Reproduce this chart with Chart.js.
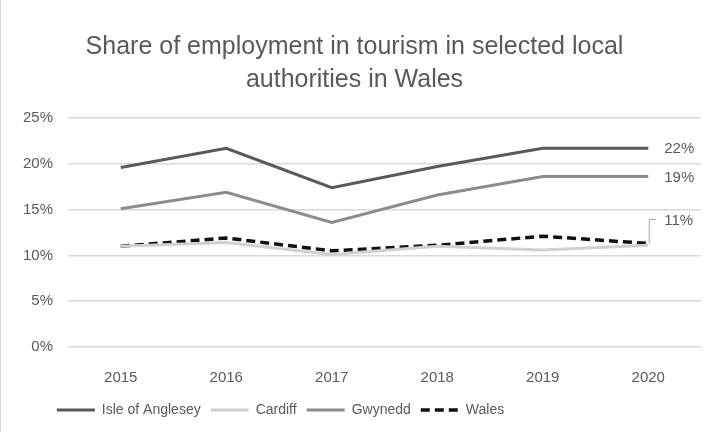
<!DOCTYPE html>
<html>
<head>
<meta charset="utf-8">
<script src="https://cdn.jsdelivr.net/npm/chart.js@4"></script>
<style>
  html, body { margin: 0; padding: 0; background: #fff; }
  #wrap { width: 713px; height: 432px; position: relative; box-sizing: border-box; border-left: 1px solid #d9d9d9; }
</style>
</head>
<body>
<div id="wrap"><canvas id="chart" width="712" height="432"></canvas></div>
<script>
// data
const years = ['2015', '2016', '2017', '2018', '2019', '2020'];
const anglesey = [0.196, 0.217, 0.174, 0.197, 0.217, 0.217];
const cardiff = [0.110, 0.114, 0.101, 0.110, 0.106, 0.111];
const gwynedd = [0.151, 0.169, 0.136, 0.166, 0.186, 0.186];
const wales = [0.110, 0.119, 0.105, 0.111, 0.121, 0.113];
const yTicks = [0, 0.05, 0.10, 0.15, 0.20, 0.25];

const textColor = '#595959';
const fontFamily = "'Liberation Sans', sans-serif";

// end-of-line value labels (Wales gets a little leader line)
const endLabels = {
  id: 'endLabels',
  afterLayout(chart) {
    // legend sits left of centre in the original
    chart.legend.left -= 74;
    chart.legend.right -= 74;
  },
  afterDatasetsDraw(chart) {
    const ctx = chart.ctx;
    ctx.save();
    ctx.font = '15px ' + fontFamily;
    ctx.fillStyle = textColor;
    ctx.textBaseline = 'middle';
    chart.data.datasets.forEach((ds, i) => {
      if (!ds.showEnd) return;
      const meta = chart.getDatasetMeta(i);
      const pt = meta.data[meta.data.length - 1];
      const val = Math.round(ds.data[ds.data.length - 1] * 100) + '%';
      if (ds.leader) {
        const top = pt.y - 24;
        ctx.strokeStyle = '#a6a6a6';
        ctx.lineWidth = 1;
        ctx.beginPath();
        ctx.moveTo(pt.x + 1, pt.y);
        ctx.lineTo(pt.x + 1, top);
        ctx.lineTo(pt.x + 8, top);
        ctx.stroke();
        ctx.fillText(val, pt.x + 16, top + 1);
      } else {
        ctx.fillText(val, pt.x + 16, pt.y + 1);
      }
    });
    ctx.restore();
  }
};

new Chart(document.getElementById('chart'), {
  type: 'line',
  data: {
    labels: years,
    datasets: [
      { label: 'Isle of Anglesey', data: anglesey, borderColor: '#595959', backgroundColor: '#595959', borderWidth: 3, showEnd: true },
      { label: 'Cardiff', data: cardiff, borderColor: '#d0d0d0', backgroundColor: '#d0d0d0', borderWidth: 3 },
      { label: 'Gwynedd', data: gwynedd, borderColor: '#8c8c8c', backgroundColor: '#8c8c8c', borderWidth: 3, showEnd: true },
      { label: 'Wales', data: wales, borderColor: '#111111', backgroundColor: '#111111', borderWidth: 3.5, borderDash: [9, 5], showEnd: true, leader: true }
    ]
  },
  options: {
    responsive: false,
    animation: false,
    elements: { point: { radius: 0, hoverRadius: 0 }, line: { tension: 0 } },
    layout: { padding: { left: 7, right: 12, top: 0, bottom: 5 } },
    plugins: {
      title: {
        display: true,
        text: ['Share of employment in tourism in selected local', 'authorities in Wales'],
        color: textColor,
        font: { family: fontFamily, size: 25, weight: 'normal', lineHeight: 1.3 },
        padding: { top: 31, bottom: 22 }
      },
      legend: {
        position: 'bottom',
        labels: {
          color: textColor,
          font: { family: fontFamily, size: 14 },
          usePointStyle: true,
          pointStyle: 'line',
          pointStyleWidth: 38,
          boxWidth: 38,
          padding: 10,
          generateLabels(chart) {
            const items = Chart.defaults.plugins.legend.labels.generateLabels(chart);
            items.forEach(it => {
              const ds = chart.data.datasets[it.datasetIndex];
              it.lineDash = ds.borderDash || [];
              it.lineWidth = ds.borderWidth;
              it.strokeStyle = ds.borderColor;
            });
            return items;
          }
        }
      },
      tooltip: { enabled: false }
    },
    scales: {
      x: {
        offset: true,
        grid: { display: false },
        border: { display: false },
        ticks: { color: textColor, font: { family: fontFamily, size: 15 }, padding: 14 },
        afterFit(axis) { axis.height -= 8; }
      },
      y: {
        min: 0,
        max: 0.25,
        afterBuildTicks(axis) { axis.ticks = yTicks.map(v => ({ value: v })); },
        grid: { color: '#d9d9d9', lineWidth: 1.5, drawTicks: false },
        border: { display: false },
        ticks: {
          color: textColor,
          font: { family: fontFamily, size: 15 },
          padding: 15,
          callback: v => Math.round(v * 100) + '%'
        }
      }
    }
  },
  plugins: [endLabels]
});
</script>
</body>
</html>
